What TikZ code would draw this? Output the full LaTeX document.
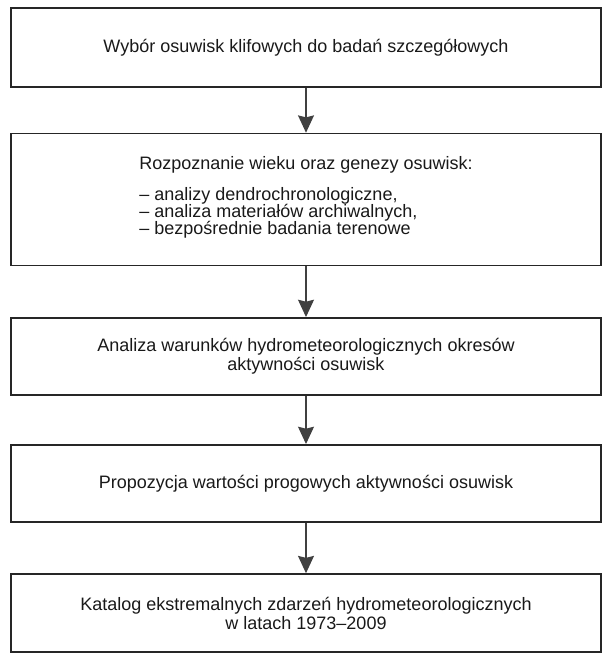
\documentclass[tikz,border=0pt]{standalone}
\usepackage{fontspec}
\setmainfont{Liberation Sans}
\usetikzlibrary{arrows.meta,calc}
\begin{document}
\begin{tikzpicture}[x=0.75pt,y=-0.75pt,
  box/.style={draw=black!85, line width=1.2pt, minimum width=442.5pt, inner sep=0pt},
  txt/.style={font=\fontsize{13.5pt}{14.2pt}\selectfont, text=black!90, align=center, inner sep=0pt},
  ltxt/.style={font=\fontsize{13.5pt}{14.2pt}\selectfont, text=black!90, inner sep=0pt},
  arr/.style={draw=black!75, line width=0.9pt, -{Stealth[length=13pt,width=12pt,inset=1.5pt]}}]
\useasboundingbox (0,0) rectangle (612,661);
\node[box, minimum height=59pt] (b1) at (306,47.5) {};
\node[box, minimum height=99pt] (b2) at (306,199.5) {};
\node[box, minimum height=58pt] (b3) at (306,356.5) {};
\node[box, minimum height=58pt] (b4) at (306,483.5) {};
\node[box, minimum height=58.5pt] (b5) at (306,613) {};
\node[txt] (t1) at (b1.center) {Wybór osuwisk klifowych do badań szczegółowych};
\node[ltxt, anchor=base] (t2a) at (306,169) {Rozpoznanie wieku oraz genezy osuwisk:};
\node[ltxt, anchor=base west] (t2b) at ($(t2a.base west)+(0,31.5)$) {– analizy dendrochronologiczne,};
\node[ltxt, anchor=base west] (t2c) at ($(t2b.base west)+(0,17)$) {– analiza materiałów archiwalnych,};
\node[ltxt, anchor=base west] (t2d) at ($(t2c.base west)+(0,17)$) {– bezpośrednie badania terenowe};
\node[txt] (t3) at (b3.center) {Analiza warunków hydrometeorologicznych okresów\\aktywności osuwisk};
\node[txt] (t4) at (b4.center) {Propozycja wartości progowych aktywności osuwisk};
\node[txt] (t5) at (b5.center) {Katalog ekstremalnych zdarzeń hydrometeorologicznych\\w latach 1973–2009};
\draw[arr] (b1.south) -- (b2.north);
\draw[arr] (b2.south) -- (b3.north);
\draw[arr] (b3.south) -- (b4.north);
\draw[arr] (b4.south) -- (b5.north);
\end{tikzpicture}
\end{document}
